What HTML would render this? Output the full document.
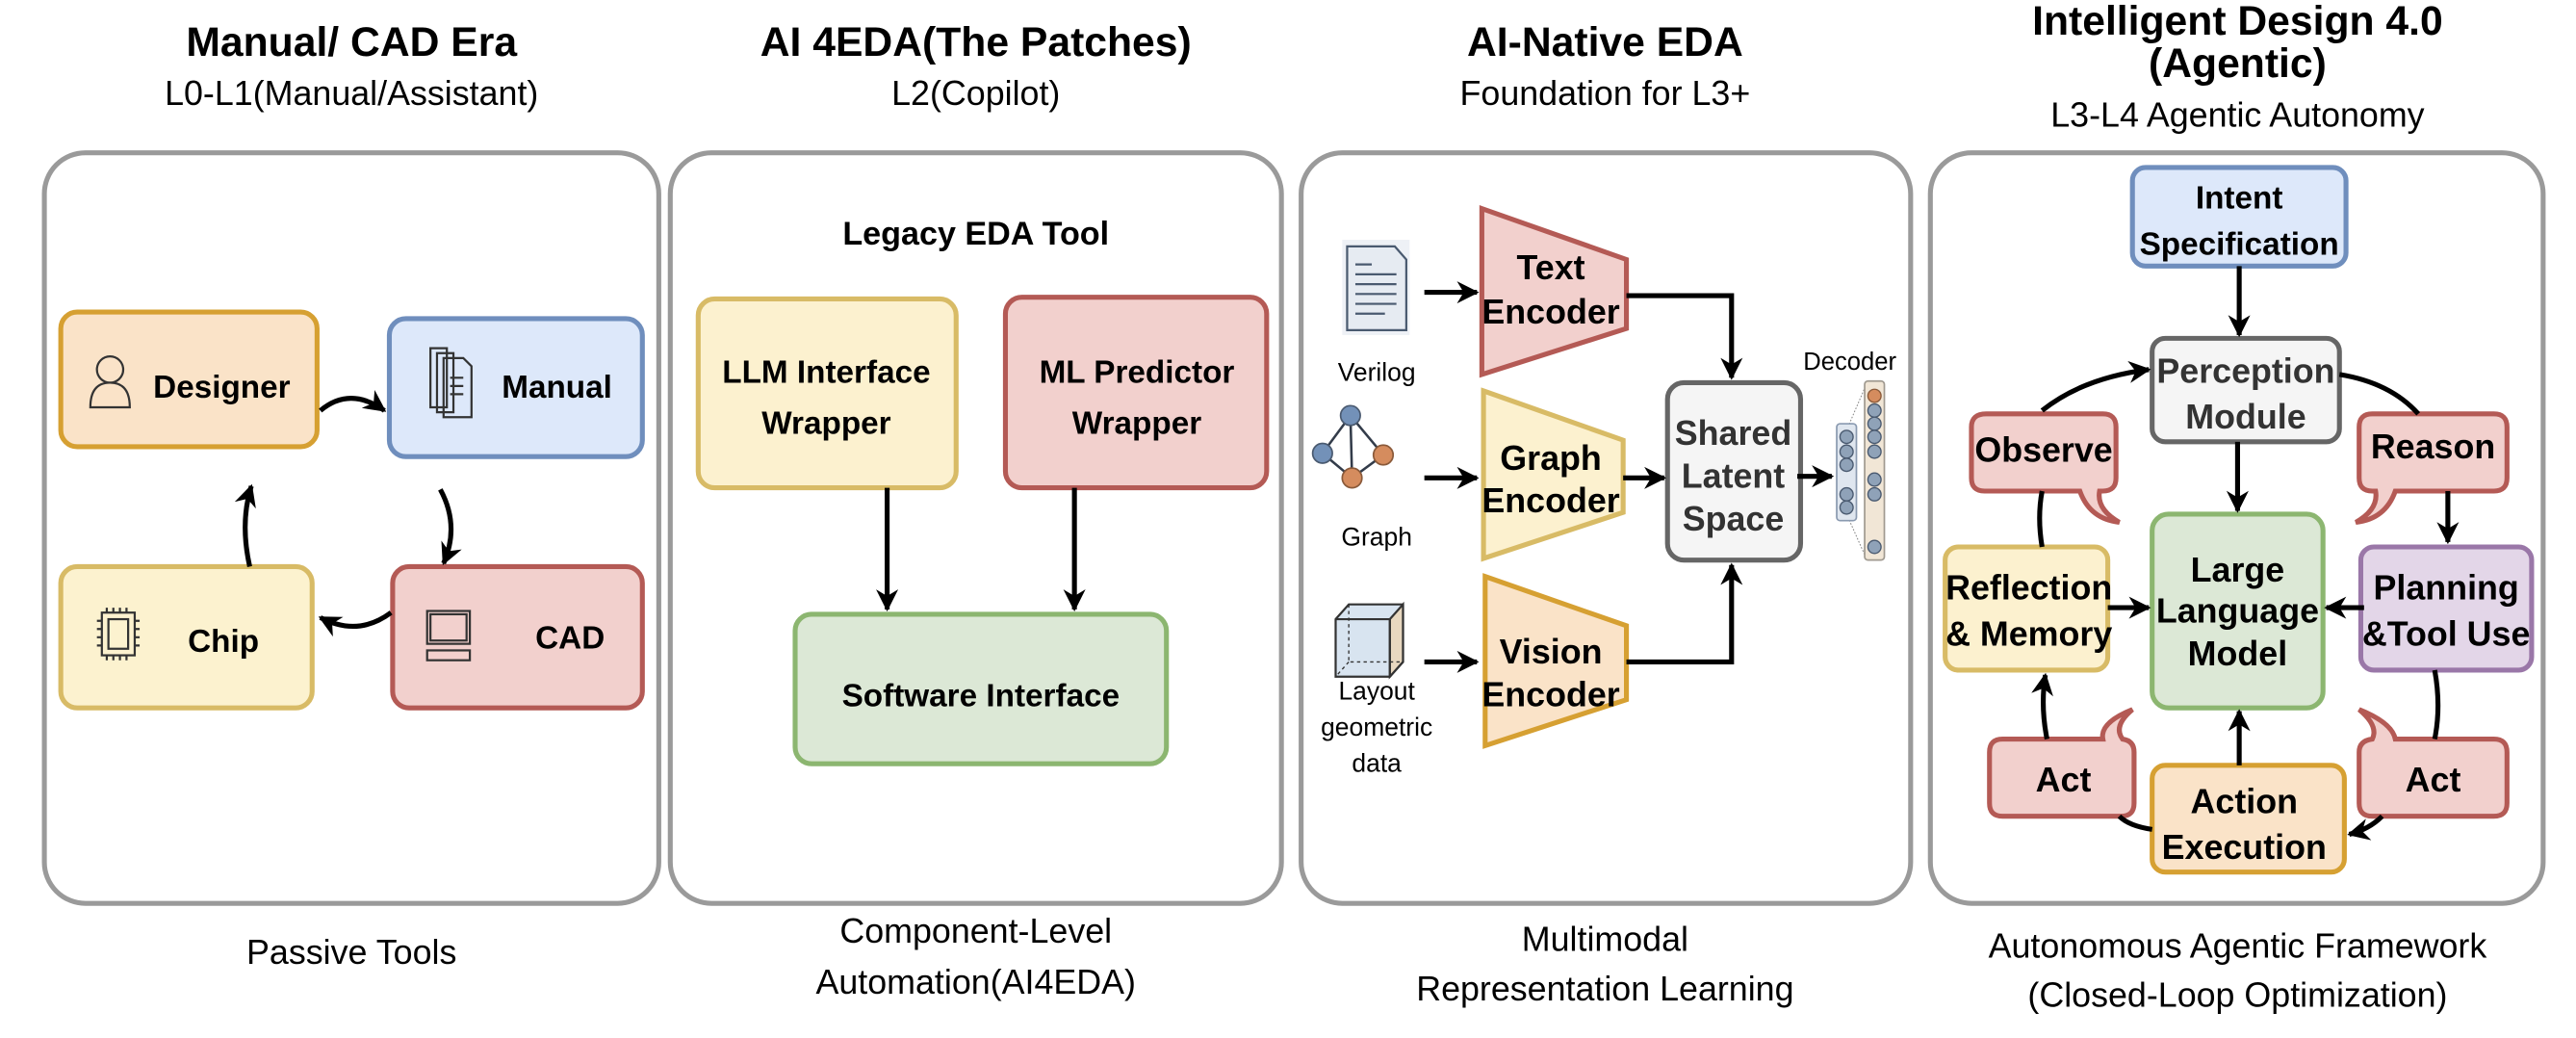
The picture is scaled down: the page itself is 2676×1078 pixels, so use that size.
<!DOCTYPE html>
<html><head><meta charset="utf-8"><style>
html,body{margin:0;padding:0;background:#fff;width:2676px;height:1078px;overflow:hidden}
svg{display:block}
text{font-family:"Liberation Sans",Arial,sans-serif}
.t{font-weight:bold;font-size:25px;text-anchor:middle}
.s{font-size:21px;text-anchor:middle}
.b{font-weight:bold;font-size:19.5px;text-anchor:middle}
.c{font-weight:bold;font-size:21px;text-anchor:middle}
.n{font-size:15.5px;text-anchor:middle}
.pan{fill:#fff;stroke:#9a9a9a;stroke-width:3}
.ln{fill:none;stroke:#000;stroke-width:3}
</style></head><body>
<svg width="2676" height="1078" viewBox="0 0 1568 632" preserveAspectRatio="none" xmlns="http://www.w3.org/2000/svg">
<defs>
<marker id="a" viewBox="0 0 10 10" refX="9" refY="5" markerWidth="4.5" markerHeight="4.5" orient="auto-start-reverse" markerUnits="strokeWidth">
<path d="M0,0 L10,5 L0,10 L3,5z" fill="#000"/></marker>
</defs>
<!-- titles -->
<text class="t" x="214" y="34">Manual/ CAD Era</text>
<text class="s" x="214" y="64">L0-L1(Manual/Assistant)</text>
<text class="t" x="594" y="34">AI 4EDA(The Patches)</text>
<text class="s" x="594" y="64">L2(Copilot)</text>
<text class="t" x="977" y="34">AI-Native EDA</text>
<text class="s" x="977" y="64">Foundation for L3+</text>
<text class="t" x="1362" y="21">Intelligent Design 4.0</text>
<text class="t" x="1362" y="47">(Agentic)</text>
<text class="s" x="1362" y="77">L3-L4 Agentic Autonomy</text>
<!-- panels -->
<rect class="pan" x="27" y="93" width="374" height="457" rx="25"/>
<rect class="pan" x="408" y="93" width="372" height="457" rx="25"/>
<rect class="pan" x="792" y="93" width="371" height="457" rx="25"/>
<rect class="pan" x="1175" y="93" width="373" height="457" rx="25"/>
<!-- bottom labels -->
<text class="s" x="214" y="587">Passive Tools</text>
<text class="s" x="594" y="574">Component-Level</text>
<text class="s" x="594" y="605">Automation(AI4EDA)</text>
<text class="s" x="977" y="579">Multimodal</text>
<text class="s" x="977" y="609">Representation Learning</text>
<text class="s" x="1362" y="583">Autonomous Agentic Framework</text>
<text class="s" x="1362" y="613">(Closed-Loop Optimization)</text>

<!-- panel1 -->
<rect x="37" y="190" width="156" height="82" rx="10" fill="#fae3c8" stroke="#d6a032" stroke-width="3"/>
<rect x="237" y="194" width="154" height="84" rx="10" fill="#dde8fa" stroke="#6f8ebd" stroke-width="3"/>
<rect x="37" y="345" width="153" height="86" rx="10" fill="#fcf2cf" stroke="#d8bb66" stroke-width="3"/>
<rect x="239" y="345" width="152" height="86" rx="10" fill="#f2d0cd" stroke="#b45a55" stroke-width="3"/>
<text class="b" x="135" y="242">Designer</text>
<text class="b" x="339" y="242">Manual</text>
<text class="b" x="136" y="397">Chip</text>
<text class="b" x="347" y="395">CAD</text>
<!-- icons -->
<g fill="none" stroke="#333" stroke-width="1.3">
<circle cx="67" cy="225" r="8"/><path d="M55,248 Q55,233 67,233 Q79,233 79,248 Z"/>
<path d="M262,212 h10 v36 h-10z M266,215 h10 v36 h-10z M270,218 h12 l5,5 v31 h-17z M274,230 h8 M274,235 h8 M274,240 h8"/>
<rect x="62" y="373" width="20" height="26"/><rect x="66" y="377" width="12" height="18"/>
<path d="M65,370 v3 M69,370 v3 M73,370 v3 M77,370 v3 M65,399 v3 M69,399 v3 M73,399 v3 M77,399 v3 M59,378 h3 M59,383 h3 M59,388 h3 M59,393 h3 M82,378 h3 M82,383 h3 M82,388 h3 M82,393 h3"/>
<rect x="260" y="372" width="26" height="20"/><rect x="262" y="374" width="22" height="16"/><rect x="260" y="396" width="26" height="6"/>
</g>
<!-- panel1 arrows -->
<path class="ln" d="M195,250 Q213,235 234,250" marker-end="url(#a)"/>
<path class="ln" d="M268,298 Q280,320 270,343" marker-end="url(#a)"/>
<path class="ln" d="M238,373 Q218,388 195,376" marker-end="url(#a)"/>
<path class="ln" d="M152,345 Q146,318 153,296" marker-end="url(#a)"/>

<!-- panel2 -->
<text class="b" x="594" y="149" style="font-size:20px">Legacy EDA Tool</text>
<rect x="425" y="182" width="157" height="115" rx="10" fill="#fcf1cf" stroke="#d8bb66" stroke-width="3"/>
<rect x="612" y="181" width="159" height="116" rx="10" fill="#f2d0cd" stroke="#b45a55" stroke-width="3"/>
<rect x="484" y="374" width="226" height="91" rx="10" fill="#dce8d6" stroke="#8cb670" stroke-width="3"/>
<text class="b" x="503" y="233">LLM Interface</text>
<text class="b" x="503" y="264">Wrapper</text>
<text class="b" x="692" y="233">ML Predictor</text>
<text class="b" x="692" y="264">Wrapper</text>
<text class="b" x="597" y="430">Software Interface</text>
<path class="ln" d="M540,297 V371" marker-end="url(#a)"/>
<path class="ln" d="M654,297 V371" marker-end="url(#a)"/>

<!-- panel3 -->
<path d="M902,127 L990,158 L990,200 L902,228 Z" fill="#f2d0cd" stroke="#b45a55" stroke-width="3"/>
<path d="M903,238 L988,268 L988,312 L903,340 Z" fill="#fcf1cf" stroke="#d8bb66" stroke-width="3"/>
<path d="M904,351 L990,381 L990,426 L904,454 Z" fill="#fae3c8" stroke="#d6a032" stroke-width="3"/>
<text class="c" x="944" y="170">Text</text>
<text class="c" x="944" y="197">Encoder</text>
<text class="c" x="944" y="286">Graph</text>
<text class="c" x="944" y="312">Encoder</text>
<text class="c" x="944" y="404">Vision</text>
<text class="c" x="944" y="430">Encoder</text>
<rect x="1015" y="233" width="81" height="108" rx="10" fill="#f5f5f5" stroke="#666" stroke-width="3"/>
<text class="c" x="1055" y="271" fill="#333">Shared</text>
<text class="c" x="1055" y="297" fill="#333">Latent</text>
<text class="c" x="1055" y="323" fill="#333">Space</text>
<path class="ln" d="M990,180 H1054 V230" marker-end="url(#a)"/>
<path class="ln" d="M988,291 H1013" marker-end="url(#a)"/>
<path class="ln" d="M990,403 H1054 V344" marker-end="url(#a)"/>
<path class="ln" d="M1094,290 H1115" marker-end="url(#a)"/>
<path class="ln" d="M867,178 H899" marker-end="url(#a)"/>
<path class="ln" d="M867,291 H899" marker-end="url(#a)"/>
<path class="ln" d="M867,403 H899" marker-end="url(#a)"/>
<text class="n" x="838" y="232">Verilog</text>
<text class="n" x="838" y="332">Graph</text>
<text class="n" x="838" y="426">Layout</text>
<text class="n" x="838" y="448">geometric</text>
<text class="n" x="838" y="470">data</text>
<text x="1126" y="225" font-size="15" text-anchor="middle">Decoder</text>
<!-- doc icon -->
<rect x="817" y="146" width="41" height="58" fill="#eef1f6"/>
<path d="M820,150 H849 L856,158 V201 H820 Z" fill="#e6ebf2" stroke="#4a5a70" stroke-width="1.3"/>
<path d="M825,161 h10 M825,167 h25 M825,173 h25 M825,179 h25 M825,185 h25 M825,191 h18" stroke="#4a5a70" stroke-width="1.3"/>
<!-- graph icon -->
<path d="M822,253 L805,276 L823,291 L842,277 Z M822,253 L823,291" fill="none" stroke="#333c4a" stroke-width="1.5"/>
<circle cx="822" cy="253" r="6" fill="#7391b8" stroke="#4a5a70"/>
<circle cx="805" cy="276" r="6" fill="#7391b8" stroke="#4a5a70"/>
<circle cx="823" cy="291" r="6" fill="#d58c5e" stroke="#8a5a3a"/>
<circle cx="842" cy="277" r="6" fill="#d58c5e" stroke="#8a5a3a"/>
<!-- cube -->
<path d="M813,377 L821,368 L854,368 L854,403 L846,412 L813,412 Z" fill="#d8e4f0" stroke="#333" stroke-width="1.3"/>
<path d="M846,377 L854,368 L854,403 L846,412 Z" fill="#e8d8c0" stroke="#333" stroke-width="1.3"/>
<path d="M813,377 H846 V412" fill="none" stroke="#333" stroke-width="1.3"/>
<path d="M821,368 V403 H854 M821,403 L813,412" fill="none" stroke="#333" stroke-width="0.8" stroke-dasharray="2,2"/>
<!-- decoder icon -->
<path d="M1124,262 L1136,234 M1124,313 L1136,340" stroke="#888" stroke-width="0.6" stroke-dasharray="1,1"/>
<rect x="1118" y="258" width="12" height="59" rx="2" fill="#dfe6ef" stroke="#8a9ab0"/>
<rect x="1135" y="232" width="12" height="109" rx="2" fill="#f1e6d6" stroke="#a09a90"/>
<g fill="#8fa2b8" stroke="#4a5a70" stroke-width="0.8">
<circle cx="1124" cy="266" r="4"/><circle cx="1124" cy="275" r="4"/><circle cx="1124" cy="283" r="4"/><circle cx="1124" cy="301" r="4"/><circle cx="1124" cy="309" r="4"/>
<circle cx="1141" cy="250" r="4"/><circle cx="1141" cy="258" r="4"/><circle cx="1141" cy="266" r="4"/><circle cx="1141" cy="275" r="4"/><circle cx="1141" cy="292" r="4"/><circle cx="1141" cy="301" r="4"/><circle cx="1141" cy="333" r="4"/>
</g>
<circle cx="1141" cy="241" r="4" fill="#d58c5e" stroke="#8a5a3a" stroke-width="0.8"/>

<!-- panel4 -->
<g stroke-width="3">
<rect x="1298" y="102" width="130" height="60" rx="8" fill="#dde8fa" stroke="#6f8ebd"/>
<rect x="1310" y="206" width="114" height="63" rx="8" fill="#f5f5f5" stroke="#666"/>
<rect x="1310" y="313" width="104" height="118" rx="10" fill="#dce8d6" stroke="#8cb670"/>
<rect x="1184" y="333" width="99" height="75" rx="8" fill="#fcf1cf" stroke="#d8bb66"/>
<rect x="1437" y="333" width="104" height="75" rx="8" fill="#e3d6e8" stroke="#9a77a8"/>
<rect x="1310" y="466" width="117" height="65" rx="8" fill="#fae3c8" stroke="#d6a032"/>
<path d="M1209,252 H1280 Q1288,252 1288,260 V291 Q1288,299 1280,299 H1278 Q1276,310 1290,318 Q1272,316 1266,299 H1208 Q1200,299 1200,291 V260 Q1200,252 1209,252 Z" fill="#f2d0cd" stroke="#b45a55"/>
<path d="M1444,252 H1518 Q1526,252 1526,260 V291 Q1526,299 1518,299 H1458 Q1452,316 1434,318 Q1448,310 1446,299 H1444 Q1436,299 1436,291 V260 Q1436,252 1444,252 Z" fill="#f2d0cd" stroke="#b45a55"/>
<path d="M1219,450 H1280 Q1278,440 1298,432 Q1286,442 1292,450 Q1299,451 1299,458 V489 Q1299,497 1291,497 H1219 Q1211,497 1211,489 V458 Q1211,450 1219,450 Z" fill="#f2d0cd" stroke="#b45a55"/>
<path d="M1444,450 Q1436,451 1436,458 V489 Q1436,497 1444,497 H1518 Q1526,497 1526,489 V458 Q1526,450 1518,450 H1458 Q1456,440 1436,432 Q1448,442 1444,450 Z" fill="#f2d0cd" stroke="#b45a55"/>
</g>
<text class="b" x="1363" y="127">Intent</text>
<text class="b" x="1363" y="155">Specification</text>
<text class="c" x="1367" y="233" fill="#333">Perception</text>
<text class="c" x="1367" y="261" fill="#333">Module</text>
<text class="c" x="1362" y="354">Large</text>
<text class="c" x="1362" y="379">Language</text>
<text class="c" x="1362" y="405">Model</text>
<text class="c" x="1244" y="281">Observe</text>
<text class="c" x="1481" y="279">Reason</text>
<text class="c" x="1235" y="365">Reflection</text>
<text class="c" x="1235" y="393">&amp; Memory</text>
<text class="c" x="1489" y="365">Planning</text>
<text class="c" x="1489" y="393">&amp;Tool Use</text>
<text class="c" x="1256" y="482">Act</text>
<text class="c" x="1481" y="482">Act</text>
<text class="c" x="1366" y="495">Action</text>
<text class="c" x="1366" y="523">Execution</text>
<!-- panel4 arrows -->
<path class="ln" d="M1363,162 V204" marker-end="url(#a)"/>
<path class="ln" d="M1362,269 V311" marker-end="url(#a)"/>
<path class="ln" d="M1283,370 H1308" marker-end="url(#a)"/>
<path class="ln" d="M1439,370 H1416" marker-end="url(#a)"/>
<path class="ln" d="M1363,466 V433" marker-end="url(#a)"/>
<path class="ln" d="M1243,250 Q1268,230 1308,225" marker-end="url(#a)"/>
<path class="ln" d="M1424,228 Q1455,233 1472,252"/>
<path class="ln" d="M1490,299 V330" marker-end="url(#a)"/>
<path class="ln" d="M1482,408 Q1486,430 1482,450"/>
<path class="ln" d="M1450,497 Q1442,505 1430,508" marker-end="url(#a)"/>
<path class="ln" d="M1310,505 Q1296,503 1290,497"/>
<path class="ln" d="M1246,450 Q1242,430 1245,411" marker-end="url(#a)"/>
<path class="ln" d="M1243,333 Q1240,315 1243,299"/>
</svg>
</body></html>
